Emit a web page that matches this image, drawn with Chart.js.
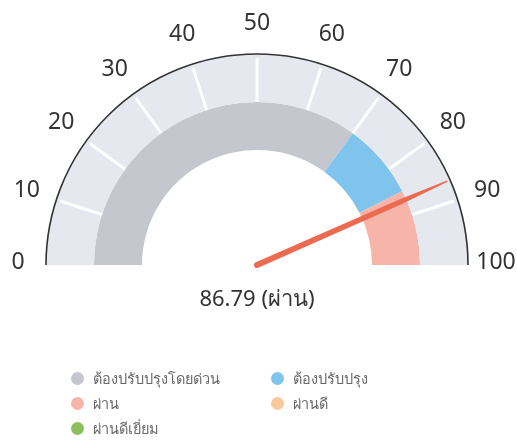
<!DOCTYPE html>
<html>
<head>
<meta charset="utf-8">
<script src="https://cdn.jsdelivr.net/npm/chart.js@4.4.1/dist/chart.umd.min.js"></script>
<style>
  html, body { margin: 0; padding: 0; background: #fff; }
  #wrap { position: relative; width: 517px; height: 441px; }
  #legend { position: absolute; left: 71px; top: 368px; display: grid;
    grid-template-columns: 200px 180px; row-gap: 5px;
    font-family: "Noto Sans", "DejaVu Sans", sans-serif; font-size: 14.5px; color: #6a6a6a; }
  #legend div { display: flex; align-items: center; height: 20px; }
  #legend span.dot { width: 13px; height: 13px; border-radius: 50%; margin-right: 9px; display: inline-block; }
</style>
</head>
<body>
<div id="wrap">
  <canvas id="gauge" width="517" height="441"></canvas>
  <div id="legend"></div>
</div>
<script>
const categories = ['ต้องปรับปรุงโดยด่วน', 'ต้องปรับปรุง', 'ผ่าน', 'ผ่านดี', 'ผ่านดีเยี่ยม']
const bandValues = [70, 15, 15, 0, 0]
const bandColors = ['#c5c7cf', '#7ec4ec', '#f7b4a9', '#f8c99b', '#8cc05c']
const tickLabels = [0, 10, 20, 30, 40, 50, 60, 70, 80, 90, 100]
const score = 86.79
const scoreLabel = 'ผ่าน'

const angleFor = v => Math.PI + Math.PI * v / 100

const gaugeDecor = {
  id: 'gaugeDecor',
  afterDatasetsDraw(chart) {
    const arc = chart.getDatasetMeta(0).data[0]
    const { x, y, outerRadius } = arc
    const inner = chart.getDatasetMeta(1).data[0].outerRadius
    const ctx = chart.ctx
    ctx.save()

    // white tick marks
    ctx.strokeStyle = '#ffffff'
    ctx.lineWidth = 3
    tickLabels.slice(1, -1).forEach(t => {
      const a = angleFor(t)
      ctx.beginPath()
      ctx.moveTo(x + Math.cos(a) * inner, y + Math.sin(a) * inner)
      ctx.lineTo(x + Math.cos(a) * (outerRadius - 4), y + Math.sin(a) * (outerRadius - 4))
      ctx.stroke()
    })

    // outer rim
    ctx.strokeStyle = '#333'
    ctx.lineWidth = 1.6
    ctx.beginPath()
    ctx.arc(x, y, outerRadius, Math.PI, 2 * Math.PI)
    ctx.stroke()

    // tick labels
    ctx.fillStyle = '#333'
    ctx.font = '23px "Noto Sans", sans-serif'
    ctx.textAlign = 'center'
    ctx.textBaseline = 'middle'
    tickLabels.forEach(t => {
      const a = angleFor(t)
      const r = outerRadius + (t === 0 || t === 100 ? 28 : 31)
      ctx.fillText(String(t), x + Math.cos(a) * r, y + Math.sin(a) * r - (t === 0 || t === 100 ? 3 : 0))
    })

    // needle
    const a = angleFor(score)
    const len = outerRadius - 3
    const nx = Math.cos(a), ny = Math.sin(a)
    const px = -ny, py = nx
    ctx.fillStyle = '#ec6a4f'
    ctx.beginPath()
    ctx.moveTo(x + px * 3, y + py * 3)
    ctx.lineTo(x + nx * len * 0.75 + px * 2.6, y + ny * len * 0.75 + py * 2.6)
    ctx.lineTo(x + nx * len + px * 0.7, y + ny * len + py * 0.7)
    ctx.lineTo(x + nx * len - px * 0.7, y + ny * len - py * 0.7)
    ctx.lineTo(x + nx * len * 0.75 - px * 2.6, y + ny * len * 0.75 - py * 2.6)
    ctx.lineTo(x - px * 3, y - py * 3)
    ctx.arc(x, y, 3, a + Math.PI / 2, a + 3 * Math.PI / 2)
    ctx.fill()

    // score text
    ctx.fillStyle = '#333'
    ctx.font = '22px "Noto Sans", sans-serif'
    ctx.fillText(score.toFixed(2) + ' (' + scoreLabel + ')', x, y + 35)
    ctx.restore()
  }
}

new Chart(document.getElementById('gauge'), {
  type: 'doughnut',
  data: {
    labels: categories,
    datasets: [
      { data: [100], backgroundColor: ['#e5e8ef'], borderWidth: 0, weight: 1 },
      { data: bandValues, backgroundColor: bandColors, borderWidth: 0, weight: 1 }
    ]
  },
  options: {
    responsive: false,
    animation: false,
    rotation: -90,
    circumference: 180,
    cutout: '54.5%',
    layout: { padding: { left: 46, right: 49, top: 54, bottom: 176 } },
    plugins: { legend: { display: false }, tooltip: { enabled: false } }
  },
  plugins: [gaugeDecor]
})

const legend = document.getElementById('legend')
categories.forEach((c, i) => {
  const item = document.createElement('div')
  item.innerHTML = '<span class="dot" style="background:' + bandColors[i] + '"></span>' + c
  legend.appendChild(item)
})
</script>
</body>
</html>
